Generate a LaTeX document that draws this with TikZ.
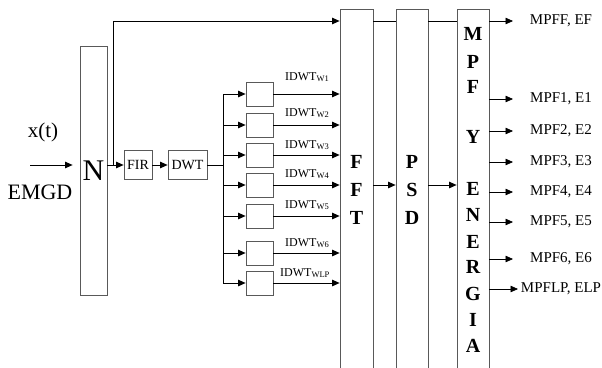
\documentclass[tikz,border=0pt]{standalone}
\usepackage{fontspec}
\setmainfont{Liberation Serif}
\usetikzlibrary{arrows.meta}
\begin{document}
\begin{tikzpicture}[x=1pt,y=-1pt,
  blk/.style={draw=black!65, line width=0.8pt, inner sep=0pt},
  wire/.style={line width=0.7pt},
  arr/.style={wire,-{Triangle[length=7.5pt,width=6.5pt]}},
  bigl/.style={font=\fontsize{20}{28}\selectfont\bfseries, inner sep=0pt, align=center},
  lab/.style={font=\fontsize{15}{15}\selectfont, inner sep=0pt},
  idw/.style={font=\fontsize{12}{12}\selectfont, inner sep=0pt, anchor=west}]
\useasboundingbox (0,0) rectangle (602,367);

% main blocks
\node[blk, minimum width=27pt, minimum height=249pt, font=\fontsize{30}{30}\selectfont] (N) at (93.5,170.5) {N};
\node[blk, minimum width=28pt, minimum height=29pt, font=\fontsize{14}{14}\selectfont] (FIR) at (138,165) {FIR};
\node[blk, minimum width=39pt, minimum height=29pt, font=\fontsize{14}{14}\selectfont] (DWT) at (187.5,165) {DWT};
\node[blk, minimum width=33pt, minimum height=361pt] (FFT) at (356.5,189.5) {};
\node[blk, minimum width=32pt, minimum height=361pt] (PSD) at (412,189.5) {};
\node[blk, minimum width=32pt, minimum height=361pt] (MPF) at (473,189.5) {};

% letters in tall blocks
\node[bigl] (tFFT) at (356.5,190) {F\\F\\T};
\node[bigl] (tPSD) at (412,190) {P\\S\\D};
\foreach \yy/\ch [count=\i] in {34/M,62/P,87/F,137/Y,189/E,215/N,242/E,267/R,294/G,320/I,346/A}
  \node[bigl] (m\i) at (473,\yy) {\ch};

% input
\coordinate (in) at (30,165);
\draw[arr, shorten >=7pt] (in) -- (N.west |- in);
\node[font=\fontsize{21}{21}\selectfont, inner sep=0pt] (xt) at (43,132) {x(t)};
\node[font=\fontsize{22}{22}\selectfont, inner sep=0pt] (emgd) at (40,192) {EMGD};

% N -> FIR, bypass
\coordinate (j) at (113,165);
\coordinate (top) at (113,21);
\draw[arr] (N.east |- FIR) -- (FIR.west);
\draw[wire] (j) -- (top);
\draw[arr] (top) -- (FFT.west |- top);
\draw[arr] (FIR) -- (DWT);
\draw[wire] (FFT.east |- top) -- (PSD.west |- top);
\draw[wire] (PSD.east |- top) -- (MPF.west |- top);

% DWT bus
\coordinate (b) at (223,165);
\coordinate (bT) at (223,94);
\coordinate (bB) at (223,283);
\draw[wire] (DWT) -- (b);
\draw[wire] (bT) -- (bB);

\foreach \yy/\n/\ly/\lx/\sub in {94/1/77/285/W1,125/2/113/285/W2,155/3/145/285/W3,185/4/174/285/W4,216/5/205/285/W5,253/6/243/285/W6,283/7/273/280/WLP}{
  \node[blk, minimum width=27pt, minimum height=24pt] (s\n) at (259.5,\yy) {};
  \draw[arr] (b |- s\n) -- (s\n.west);
  \draw[arr] (s\n.east) -- (FFT.west |- s\n);
  \node[idw] (l\n) at (\lx,\ly) {IDWT\raisebox{-1pt}{\fontsize{8.5}{8.5}\selectfont \sub}};
}

% FFT -> PSD -> MPF
\coordinate (mid) at (0,185);
\draw[arr] (FFT.east |- mid) -- (PSD.west |- mid);
\draw[arr] (PSD.east |- mid) -- (MPF.west |- mid);

% outputs
\foreach \yy/\n/\txt/\tip in {21/F/{MPFF, EF}/513,99/1/{MPF1, E1}/513,131/2/{MPF2, E2}/513,162/3/{MPF3, E3}/513,192/4/{MPF4, E4}/513,222/5/{MPF5, E5}/513,259/6/{MPF6, E6}/513,289/7/{MPFLP, ELP}/518}{
  \node[lab] (o\n) at (561,\yy) {\txt};
  \coordinate (t\n) at (\tip,\yy);
  \draw[arr] (MPF.east |- o\n) -- (t\n);
}
\end{tikzpicture}
\end{document}
